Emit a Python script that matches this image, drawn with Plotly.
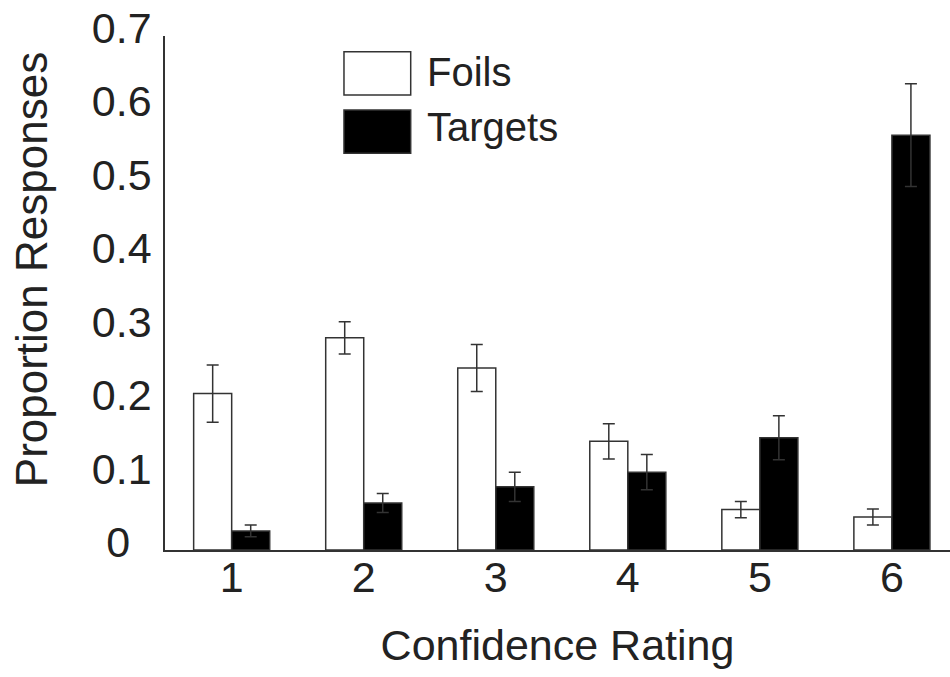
import plotly.graph_objects as go

ratings = [1, 2, 3, 4, 5, 6]
foils = [0.213, 0.289, 0.248, 0.148, 0.055, 0.045]
foils_err = [0.039, 0.022, 0.032, 0.024, 0.011, 0.011]
targets = [0.026, 0.064, 0.086, 0.106, 0.153, 0.565]
targets_err = [0.008, 0.013, 0.020, 0.024, 0.030, 0.070]
y_ticks = [0, 0.1, 0.2, 0.3, 0.4, 0.5, 0.6, 0.7]
y_ticktext = ["0\u2002", "0.1", "0.2", "0.3", "0.4", "0.5", "0.6", "0.7"]

FONT = "Liberation Sans, Arial, Helvetica, sans-serif"
INK = "#222222"
LINE = "#333333"

fig = go.Figure()
fig.add_trace(go.Bar(
    x=ratings, y=foils, name="Foils",
    marker=dict(color="white", line=dict(color=LINE, width=1.5)),
    error_y=dict(type="data", array=foils_err, color=LINE, thickness=1.5, width=6),
))
fig.add_trace(go.Bar(
    x=ratings, y=targets, name="Targets",
    marker=dict(color="black", line=dict(color=LINE, width=1.5)),
    error_y=dict(type="data", array=targets_err, color=LINE, thickness=1.5, width=6),
))

# legend drawn as boxes + text (large swatches as in the original)
fig.add_shape(type="rect", xref="paper", yref="paper", x0=0.228, x1=0.313, y0=0.885, y1=0.9695,
              fillcolor="white", line=dict(color=LINE, width=1.5))
fig.add_shape(type="rect", xref="paper", yref="paper", x0=0.228, x1=0.313, y0=0.772, y1=0.856,
              fillcolor="black", line=dict(color=LINE, width=1.5))
fig.add_annotation(text="Foils", xref="paper", yref="paper", x=0.331, y=0.930,
                   xanchor="left", yanchor="middle", showarrow=False,
                   font=dict(family=FONT, size=40, color=INK))
fig.add_annotation(text="Targets", xref="paper", yref="paper", x=0.331, y=0.823,
                   xanchor="left", yanchor="middle", showarrow=False,
                   font=dict(family=FONT, size=40, color=INK))
fig.add_annotation(text="Proportion Responses", xref="paper", yref="paper", x=-0.169, y=0.545,
                   xanchor="center", yanchor="middle", textangle=-90, showarrow=False,
                   font=dict(family=FONT, size=44, color=INK))

fig.update_layout(
    width=950, height=677,
    margin=dict(l=165, r=0, t=36, b=127),
    paper_bgcolor="white", plot_bgcolor="white",
    barmode="group", bargap=0.424, bargroupgap=0,
    showlegend=False,
    font=dict(family=FONT, size=43, color=INK),
    xaxis=dict(
        range=[0.495, 6.44], tickmode="array", tickvals=ratings,
        ticktext=[str(r) for r in ratings],
        showgrid=False, zeroline=False, showline=True, linecolor=LINE, linewidth=1.5,
        ticks="", ticklen=0, ticklabelstandoff=-11,
        title=dict(text="Confidence Rating", font=dict(size=43), standoff=30),
    ),
    yaxis=dict(
        range=[0, 0.7], tickmode="array", tickvals=y_ticks, ticktext=y_ticktext,
        showgrid=False, zeroline=False, showline=True, linecolor=LINE, linewidth=1.5,
        ticks="", ticklen=0, ticklabelstandoff=3, ticklabelshift=-8,
    ),
)

fig.write_html("out.html", config={"displayModeBar": False},
               post_script="document.body.style.margin='0';")
